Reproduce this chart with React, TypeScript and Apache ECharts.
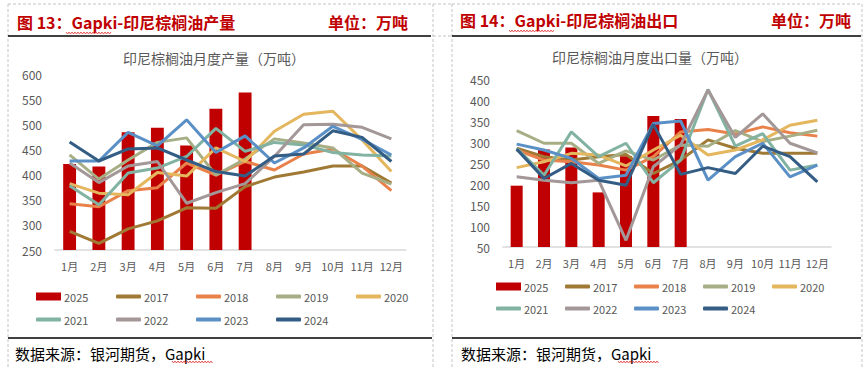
import React, { useEffect, useRef } from 'react';
import * as echarts from 'echarts';

const months = ['1月', '2月', '3月', '4月', '5月', '6月', '7月', '8月', '9月', '10月', '11月', '12月'];
const years = ['2025', '2017', '2018', '2019', '2020', '2021', '2022', '2023', '2024'];
const yearColors = ['#C00000', '#A07A35', '#E8824A', '#A6AE85', '#E4B65E', '#82B3A2', '#A39797', '#5B90C6', '#335D84'];

// Production (万吨)
const prod2025 = [421, 416, 484, 493, 458, 531, 563];
const prod2017 = [287, 263, 292, 308, 334, 333, 376, 395, 405, 417, 417, 383];
const prod2018 = [342, 336, 368, 374, 423, 399, 426, 409, 441, 451, 417, 368];
const prod2019 = [439, 391, 429, 464, 473, 399, 431, 471, 463, 453, 403, 381];
const prod2020 = [382, 363, 360, 404, 397, 453, 426, 486, 520, 526, 469, 406];
const prod2021 = [378, 340, 403, 413, 436, 492, 446, 464, 459, 444, 439, 437];
const prod2022 = [423, 384, 417, 426, 343, 364, 382, 436, 499, 500, 494, 471];
const prod2023 = [427, 427, 484, 457, 509, 444, 477, 423, 453, 496, 470, 439];
const prod2024 = [465, 427, 451, 453, 429, 406, 397, 437, 441, 487, 474, 426];

// Exports (万吨)
const exp2025 = [196, 282, 287, 180, 266, 362, 355];
const exp2017 = [285, 265, 257, 265, 270, 225, 257, 305, 285, 273, 273, 273];
const exp2018 = [281, 257, 253, 245, 233, 265, 324, 330, 319, 336, 322, 314];
const exp2019 = [327, 297, 297, 249, 279, 257, 293, 290, 327, 301, 314, 328];
const exp2020 = [239, 253, 273, 269, 243, 281, 316, 269, 281, 305, 340, 352];
const exp2021 = [285, 221, 324, 265, 297, 203, 257, 425, 290, 320, 233, 245];
const exp2022 = [217, 209, 203, 209, 66, 241, 293, 424, 311, 367, 297, 274];
const exp2023 = [295, 281, 261, 213, 221, 344, 350, 209, 265, 297, 217, 245];
const exp2024 = [283, 213, 249, 209, 197, 342, 223, 239, 225, 290, 265, 205];

const prodLines = [prod2017, prod2018, prod2019, prod2020, prod2021, prod2022, prod2023, prod2024];
const expLines = [exp2017, exp2018, exp2019, exp2020, exp2021, exp2022, exp2023, exp2024];

const FONT = '"Noto Sans CJK SC", "Noto Sans", sans-serif';
const GREY = '#595959';

function buildSeries(bars: number[], lines: number[][], idx: number) {
  const s: any[] = [
    {
      name: years[0],
      type: 'bar',
      xAxisIndex: idx,
      yAxisIndex: idx,
      data: bars,
      barWidth: '44%',
      itemStyle: { color: yearColors[0] },
      z: 1,
    },
  ];
  lines.forEach((d, i) => {
    s.push({
      name: years[i + 1],
      type: 'line',
      xAxisIndex: idx,
      yAxisIndex: idx,
      data: d,
      symbol: 'none',
      showSymbol: false,
      lineStyle: { width: 3, color: yearColors[i + 1] },
      itemStyle: { color: yearColors[i + 1] },
      z: 2 + i,
    });
  });
  return s;
}

function buildLegends(x0: number, dx: number, row1: number, row2: number) {
  return years.map((name, i) => {
    const row = i < 5 ? 0 : 1;
    const col = i < 5 ? i : i - 5;
    const isBar = name === '2025';
    return {
      data: [{ name, icon: isBar ? 'rect' : 'roundRect' }],
      left: x0 + col * dx,
      top: row === 0 ? row1 : row2,
      padding: 0,
      itemWidth: 25,
      itemHeight: isBar ? 8 : 4,
      selectedMode: false,
      textStyle: { color: GREY, fontSize: 11, fontFamily: FONT, padding: [0, 0, 0, -2], lineHeight: 13 },
    };
  });
}

function squiggle(x0: number, x1: number, y: number) {
  const pts: number[][] = [];
  let up = true;
  for (let x = x0; x <= x1; x += 1.5) {
    pts.push([x, up ? y - 1 : y + 1]);
    up = !up;
  }
  return {
    type: 'polyline',
    shape: { points: pts },
    style: { stroke: '#E03030', lineWidth: 0.8, fill: null },
    silent: true,
  };
}

function dline(x1: number, y1: number, x2: number, y2: number) {
  return {
    type: 'line',
    shape: { x1, y1, x2, y2 },
    style: { stroke: '#C4C4C4', lineWidth: 1, lineDash: [3, 2] },
    silent: true,
  };
}

function sline(x1: number, y1: number, x2: number, y2: number) {
  return {
    type: 'line',
    shape: { x1, y1, x2, y2 },
    style: { stroke: '#000', lineWidth: 1.5 },
    silent: true,
  };
}

function txt(text: string, x: number, y: number, opts: any) {
  return {
    type: 'text',
    x,
    y,
    style: { text, textVerticalAlign: 'middle', fontFamily: FONT, ...opts },
    silent: true,
  };
}

export default function App() {
  const ref = useRef<HTMLDivElement>(null);
  useEffect(() => {
    const chart = echarts.init(ref.current!, null, { renderer: 'svg' });
    const xAxisBase = {
      type: 'category',
      data: months,
      boundaryGap: true,
      axisLine: { lineStyle: { color: '#D9D9D9', width: 1.5 } },
      axisTick: { show: false },
      axisLabel: { color: GREY, fontSize: 11, fontFamily: FONT, margin: 10, interval: 0 },
      splitLine: { show: false },
    };
    const yAxisBase = {
      type: 'value',
      interval: 50,
      axisLine: { show: false },
      axisTick: { show: false },
      splitLine: { show: false },
      axisLabel: { color: GREY, fontSize: 12, fontFamily: FONT, margin: 13 },
    };
    const titleStyle = { fill: '#C00000', fontSize: 16, fontWeight: 'bold' };
    const option: any = {
      animation: false,
      backgroundColor: '#fff',
      grid: [
        { left: 55, top: 74, width: 351, height: 176 },
        { left: 503, top: 79, width: 328, height: 168 },
      ],
      xAxis: [
        { ...xAxisBase, gridIndex: 0 },
        { ...xAxisBase, gridIndex: 1 },
      ],
      yAxis: [
        { ...yAxisBase, gridIndex: 0, min: 250, max: 600 },
        { ...yAxisBase, gridIndex: 1, min: 50, max: 450 },
      ],
      legend: [...buildLegends(36, 80, 290, 313), ...buildLegends(496, 69, 280, 302)],
      series: [...buildSeries(prod2025, prodLines, 0), ...buildSeries(exp2025, expLines, 1)],
      graphic: [
        // panel borders
        dline(8, 4, 433, 4),
        dline(8, 4, 8, 369),
        dline(433, 4, 433, 369),
        dline(433, 36, 452, 36),
        dline(433, 4, 452, 4),
        dline(452, 4, 862, 4),
        dline(452, 4, 452, 369),
        dline(862, 4, 862, 369),
        sline(8, 36, 431, 36),
        sline(452, 36, 861, 36),
        sline(8, 338, 432, 338),
        sline(452, 338, 861, 338),
        // headers
        txt('图 13：Gapki-印尼棕榈油产量', 17, 22, titleStyle),
        txt('单位：万吨', 408, 22, { ...titleStyle, textAlign: 'right' }),
        txt('图 14：Gapki-印尼棕榈油出口', 460, 20, titleStyle),
        txt('单位：万吨', 851, 20, { ...titleStyle, textAlign: 'right' }),
        squiggle(66, 112, 33),
        squiggle(509, 555, 31),
        // chart titles
        txt('印尼棕榈油月度产量（万吨）', 214, 58, { fill: GREY, fontSize: 14, textAlign: 'center' }),
        txt('印尼棕榈油月度出口量（万吨）', 650, 57, { fill: GREY, fontSize: 14, textAlign: 'center' }),
        // footnotes
        txt('数据来源：银河期货，Gapki', 15, 353, { fill: '#000', fontSize: 15 }),
        txt('数据来源：银河期货，Gapki', 461, 353, { fill: '#000', fontSize: 15 }),
        squiggle(172, 213, 362),
        squiggle(618, 659, 362),
      ],
    };
    chart.setOption(option);
    return () => chart.dispose();
  }, []);
  return (
    <div
      ref={ref}
      style={{ position: 'absolute', left: 0, top: 0, width: 866, height: 369, background: '#fff' }}
    />
  );
}
